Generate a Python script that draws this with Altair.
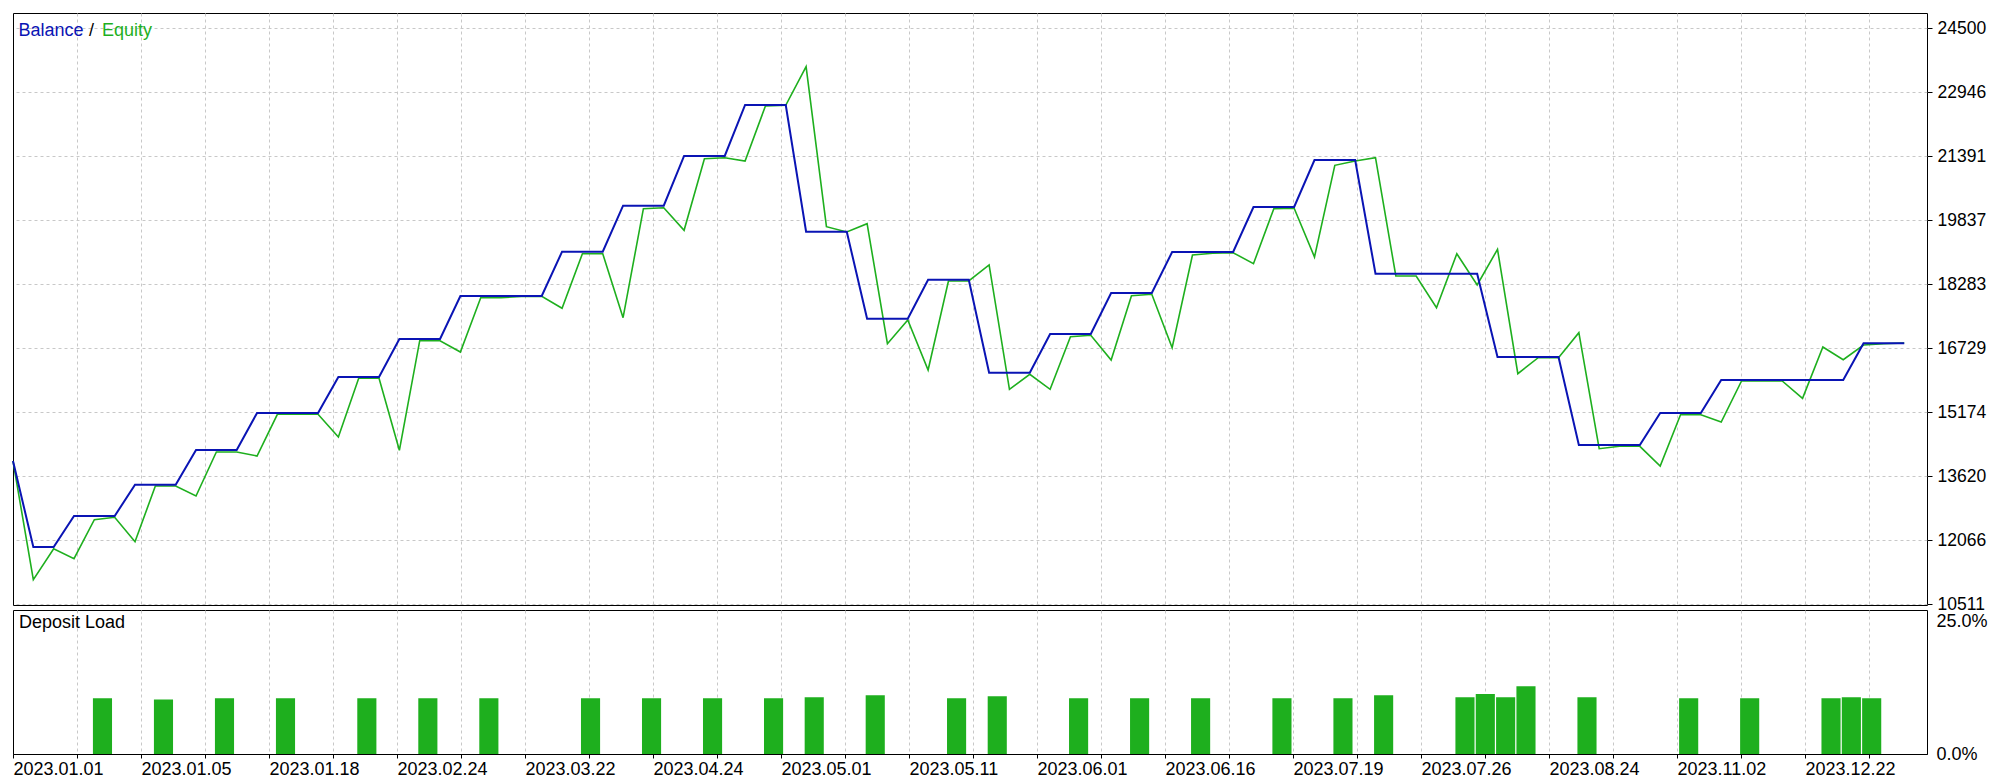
import json
import altair as alt
import pandas as pd

# ---------------- data ----------------
IDX = list(range(94))

BALANCE = [
    13991, 11903, 11903, 12655, 12655, 12655, 13416, 13416, 13416, 14259,
    14259, 14259, 15157, 15157, 15157, 15157, 16031, 16031, 16031, 16954,
    16954, 16954, 17999, 17999, 17999, 17999, 17999, 19075, 19075, 19075,
    20192, 20192, 20192, 21400, 21400, 21400, 22638, 22638, 22638, 19561,
    19561, 19561, 17447, 17447, 17447, 18395, 18395, 18395, 16136, 16136,
    16136, 17076, 17076, 17076, 18072, 18072, 18072, 19067, 19067, 19067,
    19067, 20160, 20160, 20160, 21302, 21302, 21302, 18540, 18540, 18540,
    18540, 18540, 18540, 16517, 16517, 16517, 16517, 14380, 14380, 14380,
    14380, 15157, 15157, 15157, 15959, 15959, 15959, 15959, 15959, 15959,
    15959, 16850, 16850, 16850,
]

EQUITY = [
    13991, 11108, 11861, 11619, 12566, 12624, 12031, 13384, 13384, 13141,
    14210, 14210, 14113, 15126, 15126, 15126, 14574, 16000, 16000, 14251,
    16913, 16913, 16639, 17957, 17957, 17990, 17990, 17700, 19026, 19026,
    17472, 20119, 20143, 19594, 21333, 21358, 21277, 22613, 22630, 23568,
    19682, 19553, 19755, 16840, 17416, 16201, 18363, 18363, 18752, 15733,
    16097, 15733, 17010, 17044, 16444, 18006, 18040, 16743, 18994, 19036,
    19050, 18783, 20119, 20129, 18946, 21173, 21277, 21358, 18485, 18485,
    17715, 19026, 18266, 19133, 16112, 16500, 16500, 17107, 14290, 14348,
    14348, 13870, 15116, 15116, 14939, 15934, 15934, 15934, 15514, 16760,
    16452, 16809, 16840, 16857,
]

BAR_IDX = [4, 7, 10, 13, 17, 20, 23, 28, 31, 34, 37, 39, 42, 46, 48, 52, 55,
           58, 62, 65, 67, 71, 72, 73, 74, 77, 82, 85, 89, 90, 91]
LOAD = [10.5, 10.3, 10.5, 10.5, 10.5, 10.5, 10.5, 10.5, 10.5, 10.5, 10.5,
        10.7, 11.1, 10.5, 10.9, 10.5, 10.5, 10.5, 10.5, 10.5, 11.1, 10.7,
        11.3, 10.7, 12.8, 10.7, 10.5, 10.5, 10.5, 10.7, 10.5]

DATE_LABELS = ["2023.01.01", "2023.01.05", "2023.01.18", "2023.02.24",
               "2023.03.22", "2023.04.24", "2023.05.01", "2023.05.11",
               "2023.06.01", "2023.06.16", "2023.07.19", "2023.07.26",
               "2023.08.24", "2023.11.02", "2023.12.22"]

Y_TICKS = [10511, 12066, 13620, 15174, 16729, 18283, 19837, 21391, 22946, 24500]
LOAD_TICKS = [0, 25]
LEGEND = ["Balance", "/", "Equity"]
PANEL_TITLE = ["Deposit Load"]

assert len(BALANCE) == len(IDX) == len(EQUITY)
assert len(BAR_IDX) == len(LOAD)

# ---------------- style / layout ----------------
BLUE = "#0A14B4"
GREEN = "#1EAF1E"
GRID = "#C8C8C8"
FONT = "Liberation Sans"

W = 1914
H_TOP = 592
H_BOT = 144
XMAX = 94.12
GRID_STEP = 64 * XMAX / W
grid_vals = [k * GRID_STEP for k in range(30)]

label_expr = (
    f"(round(datum.value / {GRID_STEP}) % 2 == 0) ? "
    f"{json.dumps(DATE_LABELS)}[round(datum.value / {GRID_STEP}) / 2] : ''"
)
# hide the grid line that would sit on the left frame
grid_op = {"condition": {"test": "datum.value < 0.01", "value": 0}, "value": 1}

xs = alt.Scale(domain=[0, XMAX], nice=False, zero=False)
ys_top = alt.Scale(domain=[10494, 24872], nice=False, zero=False)
ys_bot = alt.Scale(domain=[0, 27.17], nice=False, zero=False)

x_axis_top = alt.Axis(values=grid_vals[1:], labels=False, ticks=False, domain=False,
                      grid=True, gridDash=[3, 3], gridColor=GRID, gridWidth=1,
                      title=None)
y_axis_top = alt.Axis(orient="right", values=Y_TICKS, format="d", grid=True,
                      gridDash=[3, 3], gridColor=GRID, gridWidth=1,
                      tickSize=5, tickColor="black", tickWidth=1,
                      labelPadding=5, labelFontSize=17.5, labelFont=FONT,
                      labelColor="black", domain=False, title=None)

df = pd.DataFrame({"i": IDX, "balance": BALANCE, "equity": EQUITY})

equity_line = alt.Chart(df).mark_line(color=GREEN, strokeWidth=1.6).encode(
    x=alt.X("i:Q", scale=xs, axis=x_axis_top),
    y=alt.Y("equity:Q", scale=ys_top, axis=y_axis_top),
)
balance_line = alt.Chart(df).mark_line(color=BLUE, strokeWidth=2).encode(
    x=alt.X("i:Q", scale=xs, axis=x_axis_top),
    y=alt.Y("balance:Q", scale=ys_top, axis=y_axis_top),
)

leg_colors = [BLUE, "black", GREEN]
leg_x = [5.5, 76, 89]
legend_layers = []
for txt, col, xx in zip(LEGEND, leg_colors, leg_x):
    legend_layers.append(
        alt.Chart(pd.DataFrame({"t": [txt]})).mark_text(
            align="left", baseline="alphabetic", font=FONT, fontSize=18, color=col
        ).encode(text="t:N", x=alt.value(xx), y=alt.value(23))
    )

top = alt.layer(equity_line, balance_line, *legend_layers).properties(
    width=W, height=H_TOP
)

# ---------------- bottom panel ----------------
bars_df = pd.DataFrame({"i": BAR_IDX, "load": LOAD})

x_axis_bot = alt.Axis(values=grid_vals, labelExpr=label_expr, labelAlign="left",
                      labelBaseline="top", labelFontSize=18, labelFont=FONT,
                      labelColor="black", labelPadding=2, labelFlush=False,
                      labelOverlap=False, tickSize=4, tickColor="black",
                      domain=True, domainColor="black", grid=True,
                      gridDash=[3, 3], gridColor=GRID, gridOpacity=grid_op,
                      title=None)
y_axis_bot = alt.Axis(orient="right", values=LOAD_TICKS,
                      labelExpr="format(datum.value, '.1f') + '%'",
                      ticks=False, tickSize=0, domain=False, grid=False,
                      labelPadding=9, labelFontSize=18, labelFont=FONT,
                      labelColor="black", title=None)

bars = alt.Chart(bars_df).transform_calculate(
    x0="datum.i - 0.07", x1="datum.i + 0.87"
).mark_rect(color=GREEN).encode(
    x=alt.X("x0:Q", scale=xs, axis=x_axis_bot),
    x2="x1:Q",
    y=alt.Y("load:Q", scale=ys_bot, axis=y_axis_bot),
    y2=alt.datum(0),
)

dep_txt = alt.Chart(pd.DataFrame({"t": PANEL_TITLE})).mark_text(
    align="left", baseline="alphabetic", font=FONT, fontSize=18, color="black"
).encode(text="t:N", x=alt.value(6), y=alt.value(18))

bottom = alt.layer(bars, dep_txt).properties(width=W, height=H_BOT)

chart = alt.vconcat(top, bottom, spacing=5, bounds="flush").properties(
    padding={"top": 4, "left": 0, "right": 0, "bottom": 0},
    background="white",
).configure_view(stroke="black", strokeWidth=1, fill="white")

chart.save("out.html", embed_options={"renderer": "svg", "actions": False})
